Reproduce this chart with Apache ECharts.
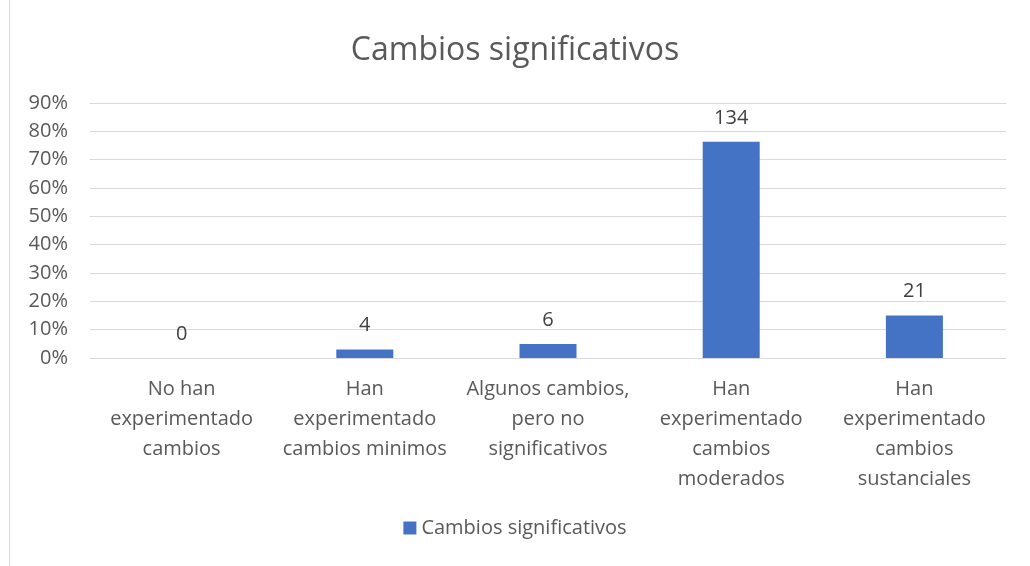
<!DOCTYPE html>
<html>
<head>
<meta charset="utf-8">
<script src="https://cdn.jsdelivr.net/npm/echarts@6/dist/echarts.min.js"></script>
<style>
  html, body { margin: 0; padding: 0; background: #fff; }
  #frame { position: absolute; left: 9px; top: 0; width: 1021px; height: 566px; border-left: 1px solid #d9d9d9; box-sizing: border-box; }
  #chart { width: 1030px; height: 566px; }
</style>
</head>
<body>
<div id="frame"></div>
<div id="chart"></div>
<script>
const categories = [
  "No han\nexperimentado\ncambios",
  "Han\nexperimentado\ncambios minimos",
  "Algunos cambios,\npero no\nsignificativos",
  "Han\nexperimentado\ncambios\nmoderados",
  "Han\nexperimentado\ncambios\nsustanciales"
];
// bar heights in percent
const percentValues = [0, 3.0, 4.9, 76.3, 15.0];
// counts printed above each bar
const countLabels = [0, 4, 6, 134, 21];
const seriesName = "Cambios significativos";

const font = "'Open Sans', 'Noto Sans', sans-serif";
const chart = echarts.init(document.getElementById("chart"));

chart.setOption({
  animation: false,
  title: {
    text: seriesName,
    left: "center",
    top: 30,
    textStyle: { fontFamily: font, fontSize: 32, fontWeight: "normal", color: "#595959" }
  },
  legend: {
    bottom: 23,
    left: "center",
    itemWidth: 13,
    itemHeight: 13,
    itemGap: 10,
    icon: "rect",
    textStyle: { fontFamily: font, fontSize: 20, color: "#595959" },
    data: [seriesName]
  },
  grid: { left: 90, right: 24, top: 103, bottom: 208 },
  xAxis: {
    type: "category",
    data: categories,
    axisLine: { lineStyle: { color: "#d9d9d9" } },
    axisTick: { show: false },
    axisLabel: {
      interval: 0,
      margin: 16,
      fontFamily: font,
      fontSize: 20,
      lineHeight: 30,
      color: "#595959"
    }
  },
  yAxis: {
    type: "value",
    min: 0,
    max: 90,
    interval: 10,
    axisLine: { show: false },
    axisTick: { show: false },
    axisLabel: {
      formatter: "{value}%",
      margin: 22,
      fontFamily: font,
      fontSize: 20,
      color: "#595959"
    },
    splitLine: { lineStyle: { color: "#d9d9d9", width: 1 } }
  },
  series: [
    {
      name: seriesName,
      type: "bar",
      data: percentValues,
      barWidth: 57,
      itemStyle: { color: "#4472C4" },
      label: {
        show: true,
        position: "top",
        distance: 14,
        fontFamily: font,
        fontSize: 20,
        color: "#404040",
        formatter: (p) => String(countLabels[p.dataIndex])
      }
    }
  ]
});
</script>
</body>
</html>
